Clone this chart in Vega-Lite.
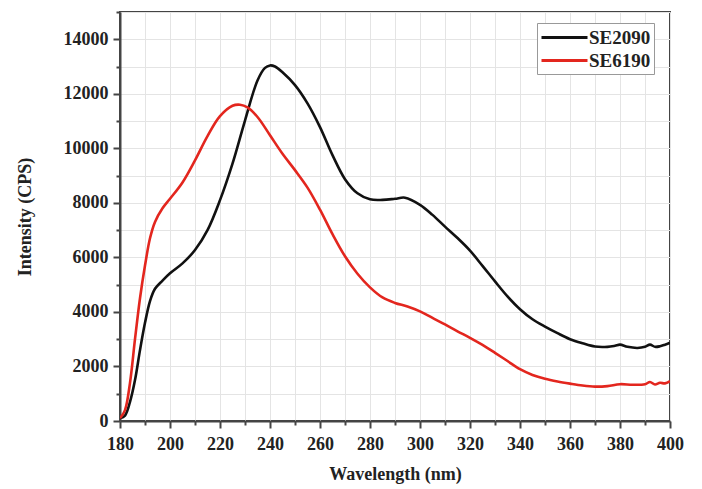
{
  "$schema": "https://vega.github.io/schema/vega-lite/v6.json",
  "width": 550,
  "height": 409,
  "autosize": "none",
  "padding": {"left": 120, "top": 12, "right": 32, "bottom": 68},
  "background": "white",
  "config": {
    "view": {"stroke": "#444", "strokeWidth": 2},
    "font": "Liberation Serif",
    "axis": {
      "labelFont": "Liberation Serif",
      "labelFontWeight": "bold",
      "labelFontSize": 18,
      "labelColor": "#222",
      "titleFont": "Liberation Serif",
      "titleFontWeight": "bold",
      "titleFontSize": 18,
      "titleColor": "#222",
      "domainColor": "#444",
      "domainWidth": 2,
      "tickColor": "#444",
      "tickWidth": 2,
      "gridColor": "#e4e4e4",
      "gridWidth": 1,
      "labelOverlap": false,
      "labelFlush": false
    }
  },
  "datasets": {
    "spectra": [
      {"wl": 180, "cps": 100, "sample": "SE2090"},
      {"wl": 182, "cps": 200, "sample": "SE2090"},
      {"wl": 184, "cps": 700, "sample": "SE2090"},
      {"wl": 186, "cps": 1500, "sample": "SE2090"},
      {"wl": 188, "cps": 2600, "sample": "SE2090"},
      {"wl": 190, "cps": 3600, "sample": "SE2090"},
      {"wl": 192, "cps": 4400, "sample": "SE2090"},
      {"wl": 194, "cps": 4850, "sample": "SE2090"},
      {"wl": 197, "cps": 5150, "sample": "SE2090"},
      {"wl": 200, "cps": 5420, "sample": "SE2090"},
      {"wl": 205, "cps": 5780, "sample": "SE2090"},
      {"wl": 210, "cps": 6270, "sample": "SE2090"},
      {"wl": 215, "cps": 7000, "sample": "SE2090"},
      {"wl": 220, "cps": 8100, "sample": "SE2090"},
      {"wl": 225, "cps": 9440, "sample": "SE2090"},
      {"wl": 230, "cps": 11020, "sample": "SE2090"},
      {"wl": 235, "cps": 12490, "sample": "SE2090"},
      {"wl": 238, "cps": 12950, "sample": "SE2090"},
      {"wl": 240, "cps": 13040, "sample": "SE2090"},
      {"wl": 242, "cps": 13000, "sample": "SE2090"},
      {"wl": 245, "cps": 12790, "sample": "SE2090"},
      {"wl": 250, "cps": 12320, "sample": "SE2090"},
      {"wl": 255, "cps": 11650, "sample": "SE2090"},
      {"wl": 260, "cps": 10780, "sample": "SE2090"},
      {"wl": 265, "cps": 9750, "sample": "SE2090"},
      {"wl": 270, "cps": 8870, "sample": "SE2090"},
      {"wl": 275, "cps": 8350, "sample": "SE2090"},
      {"wl": 280, "cps": 8130, "sample": "SE2090"},
      {"wl": 285, "cps": 8110, "sample": "SE2090"},
      {"wl": 290, "cps": 8150, "sample": "SE2090"},
      {"wl": 294, "cps": 8190, "sample": "SE2090"},
      {"wl": 300, "cps": 7930, "sample": "SE2090"},
      {"wl": 305, "cps": 7560, "sample": "SE2090"},
      {"wl": 310, "cps": 7130, "sample": "SE2090"},
      {"wl": 315, "cps": 6710, "sample": "SE2090"},
      {"wl": 320, "cps": 6250, "sample": "SE2090"},
      {"wl": 325, "cps": 5690, "sample": "SE2090"},
      {"wl": 330, "cps": 5120, "sample": "SE2090"},
      {"wl": 335, "cps": 4570, "sample": "SE2090"},
      {"wl": 340, "cps": 4100, "sample": "SE2090"},
      {"wl": 345, "cps": 3730, "sample": "SE2090"},
      {"wl": 350, "cps": 3460, "sample": "SE2090"},
      {"wl": 355, "cps": 3220, "sample": "SE2090"},
      {"wl": 360, "cps": 3000, "sample": "SE2090"},
      {"wl": 365, "cps": 2850, "sample": "SE2090"},
      {"wl": 370, "cps": 2730, "sample": "SE2090"},
      {"wl": 375, "cps": 2720, "sample": "SE2090"},
      {"wl": 378, "cps": 2760, "sample": "SE2090"},
      {"wl": 380, "cps": 2800, "sample": "SE2090"},
      {"wl": 383, "cps": 2720, "sample": "SE2090"},
      {"wl": 387, "cps": 2680, "sample": "SE2090"},
      {"wl": 390, "cps": 2720, "sample": "SE2090"},
      {"wl": 392, "cps": 2800, "sample": "SE2090"},
      {"wl": 394, "cps": 2720, "sample": "SE2090"},
      {"wl": 396, "cps": 2740, "sample": "SE2090"},
      {"wl": 398, "cps": 2800, "sample": "SE2090"},
      {"wl": 400, "cps": 2870, "sample": "SE2090"},
      {"wl": 180, "cps": 100, "sample": "SE6190"},
      {"wl": 182, "cps": 400, "sample": "SE6190"},
      {"wl": 184, "cps": 1400, "sample": "SE6190"},
      {"wl": 186, "cps": 3000, "sample": "SE6190"},
      {"wl": 188, "cps": 4500, "sample": "SE6190"},
      {"wl": 190, "cps": 5700, "sample": "SE6190"},
      {"wl": 192, "cps": 6700, "sample": "SE6190"},
      {"wl": 194, "cps": 7300, "sample": "SE6190"},
      {"wl": 197, "cps": 7800, "sample": "SE6190"},
      {"wl": 200, "cps": 8150, "sample": "SE6190"},
      {"wl": 205, "cps": 8750, "sample": "SE6190"},
      {"wl": 210, "cps": 9560, "sample": "SE6190"},
      {"wl": 215, "cps": 10450, "sample": "SE6190"},
      {"wl": 220, "cps": 11180, "sample": "SE6190"},
      {"wl": 225, "cps": 11560, "sample": "SE6190"},
      {"wl": 228, "cps": 11600, "sample": "SE6190"},
      {"wl": 231, "cps": 11500, "sample": "SE6190"},
      {"wl": 235, "cps": 11150, "sample": "SE6190"},
      {"wl": 240, "cps": 10480, "sample": "SE6190"},
      {"wl": 245, "cps": 9800, "sample": "SE6190"},
      {"wl": 250, "cps": 9200, "sample": "SE6190"},
      {"wl": 255, "cps": 8560, "sample": "SE6190"},
      {"wl": 260, "cps": 7750, "sample": "SE6190"},
      {"wl": 265, "cps": 6850, "sample": "SE6190"},
      {"wl": 270, "cps": 6040, "sample": "SE6190"},
      {"wl": 275, "cps": 5400, "sample": "SE6190"},
      {"wl": 280, "cps": 4900, "sample": "SE6190"},
      {"wl": 285, "cps": 4530, "sample": "SE6190"},
      {"wl": 290, "cps": 4330, "sample": "SE6190"},
      {"wl": 295, "cps": 4200, "sample": "SE6190"},
      {"wl": 300, "cps": 4020, "sample": "SE6190"},
      {"wl": 305, "cps": 3780, "sample": "SE6190"},
      {"wl": 310, "cps": 3540, "sample": "SE6190"},
      {"wl": 315, "cps": 3290, "sample": "SE6190"},
      {"wl": 320, "cps": 3050, "sample": "SE6190"},
      {"wl": 325, "cps": 2790, "sample": "SE6190"},
      {"wl": 330, "cps": 2500, "sample": "SE6190"},
      {"wl": 335, "cps": 2200, "sample": "SE6190"},
      {"wl": 340, "cps": 1900, "sample": "SE6190"},
      {"wl": 345, "cps": 1690, "sample": "SE6190"},
      {"wl": 350, "cps": 1550, "sample": "SE6190"},
      {"wl": 355, "cps": 1450, "sample": "SE6190"},
      {"wl": 360, "cps": 1370, "sample": "SE6190"},
      {"wl": 365, "cps": 1300, "sample": "SE6190"},
      {"wl": 370, "cps": 1260, "sample": "SE6190"},
      {"wl": 375, "cps": 1280, "sample": "SE6190"},
      {"wl": 380, "cps": 1350, "sample": "SE6190"},
      {"wl": 385, "cps": 1330, "sample": "SE6190"},
      {"wl": 390, "cps": 1350, "sample": "SE6190"},
      {"wl": 392, "cps": 1430, "sample": "SE6190"},
      {"wl": 394, "cps": 1340, "sample": "SE6190"},
      {"wl": 396, "cps": 1400, "sample": "SE6190"},
      {"wl": 398, "cps": 1380, "sample": "SE6190"},
      {"wl": 400, "cps": 1460, "sample": "SE6190"}
    ]
  },
  "data": {"name": "spectra"},
  "mark": {"type": "line", "strokeWidth": 2.6, "interpolate": "catmull-rom", "clip": true},
  "encoding": {
    "x": {
      "field": "wl",
      "type": "quantitative",
      "scale": {"domain": [180, 400], "nice": false, "zero": false},
      "axis": {
        "title": "Wavelength (nm)",
        "values": [180, 190, 200, 210, 220, 230, 240, 250, 260, 270, 280, 290, 300, 310, 320, 330, 340, 350, 360, 370, 380, 390, 400],
        "labelExpr": "datum.value % 20 === 0 ? datum.label : ''",
        "tickSize": {"condition": {"test": "datum.value % 20 === 0", "value": 7}, "value": 4},
        "labelPadding": 7,
        "titleY": 58,
        "titleBaseline": "alphabetic"
      }
    },
    "y": {
      "field": "cps",
      "type": "quantitative",
      "scale": {"domain": [0, 15000], "nice": false},
      "axis": {
        "title": "Intensity (CPS)",
        "format": "d",
        "values": [0, 1000, 2000, 3000, 4000, 5000, 6000, 7000, 8000, 9000, 10000, 11000, 12000, 13000, 14000, 15000],
        "labelExpr": "datum.value % 2000 === 0 && datum.value < 15000 ? datum.label : ''",
        "tickSize": {"condition": {"test": "datum.value % 2000 === 0", "value": 7}, "value": 4},
        "labelPadding": 5,
        "titleX": -95,
        "titleBaseline": "middle"
      }
    },
    "color": {
      "field": "sample",
      "type": "nominal",
      "scale": {"domain": ["SE2090", "SE6190"], "range": ["#111111", "#e3261e"]},
      "legend": {
        "title": null,
        "orient": "none",
        "legendX": 417,
        "legendY": 11,
        "strokeColor": "#999",
        "fillColor": "white",
        "padding": 3,
        "symbolType": "M-1,0L3.6,0",
        "symbolSize": 400,
        "symbolStrokeWidth": 3,
        "symbolOffset": 0,
        "labelOffset": 26,
        "labelFont": "Liberation Serif",
        "labelFontWeight": "bold",
        "labelFontSize": 19,
        "labelColor": "#222",
        "rowPadding": 1
      }
    }
  }
}
